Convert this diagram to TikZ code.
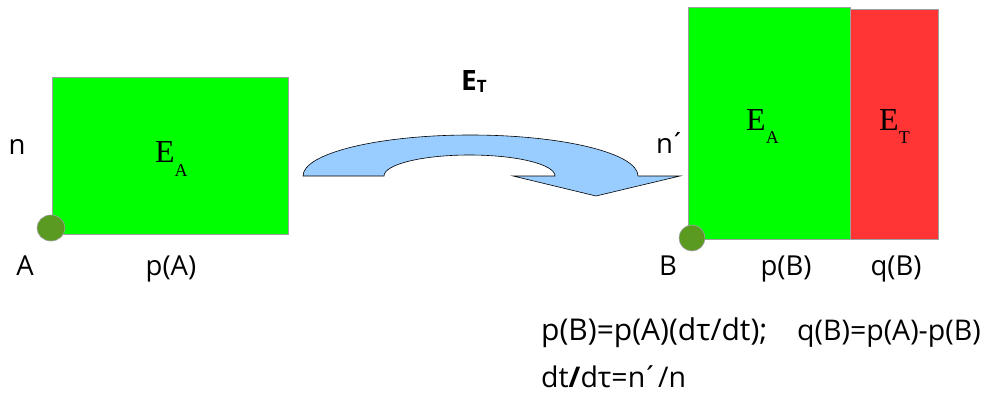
\documentclass[tikz,border=0pt]{standalone}
\usepackage{fontspec}
\setmainfont{Open Sans}
\newfontfamily\seriffont{Liberation Serif}
\definecolor{boxgreen}{HTML}{00FF00}
\definecolor{boxred}{HTML}{FF3535}
\definecolor{dotgreen}{HTML}{5A9A20}
\definecolor{arrowblue}{HTML}{99CCFF}
\definecolor{edgegray}{HTML}{A0A0A0}
\tikzset{
  lbl/.style={inner sep=0pt, font=\fontsize{27.5}{28}\selectfont},
  eqn/.style={inner sep=0pt, anchor=base west, font=\fontsize{28.5}{29}\selectfont},
  energy/.style={inner sep=0pt, anchor=base west},
  areabox/.style={draw=edgegray, line width=1pt},
  corner/.style={fill=dotgreen, draw=edgegray, line width=0.6pt},
}
\newcommand{\Esub}[1]{{\seriffont\fontsize{32}{32}\selectfont E\raisebox{-14pt}{\fontsize{18}{18}\selectfont #1}}}
\newcommand{\nprime}{n\kern-3.5pt´}
\begin{document}
\begin{tikzpicture}[x=1pt,y=1pt]
\useasboundingbox (0,0) rectangle (988,400);
% left box
\draw[areabox, fill=boxgreen] (52,166) rectangle (288,323);
\fill[corner] (51,172) ellipse [x radius=14, y radius=13];
% right boxes
\draw[areabox, fill=boxgreen] (688,161) rectangle (850,392);
\draw[areabox, fill=boxred] (850,161) rectangle (938,390);
\fill[corner] (692,162) ellipse [x radius=13, y radius=13];
% curved arrow
\draw[fill=arrowblue, line width=0.6pt] (303,224) arc [start angle=180, end angle=0, x radius=167.5, y radius=41]
  -- (680,224) -- (596,204) -- (513,224) -- (555,224)
  arc [start angle=0, end angle=180, x radius=85.5, y radius=21] -- cycle;
% labels
\node[energy] (ea1) at (155,238) {\Esub{A}};
\node[energy] (ea2) at (746,270) {\Esub{A}};
\node[energy] (et2) at (879,270) {\Esub{T}};
\node[energy] (et) at (461,310) {\fontsize{28}{28}\selectfont\bfseries E\raisebox{-3pt}{\fontsize{17}{17}\selectfont T}};
\node[lbl, anchor=base] (n) at (17,246) {n};
\node[lbl, anchor=base] (A) at (25,125) {A};
\node[lbl, anchor=base] (pA) at (171,125) {p(A)};
\node[lbl, anchor=base west] (np) at (656,247) {\nprime};
\node[lbl, anchor=base] (B) at (668,125) {B};
\node[lbl, anchor=base] (pB) at (786,125) {p(B)};
\node[lbl, anchor=base] (qB) at (896,125) {q(B)};
\node[eqn, font=\fontsize{30}{30}\selectfont] (eq1) at (541,60) {p(B)=p(A)(dτ/dt);};
\node[eqn] (eq1b) at (797,60) {q(B)=p(A)-p(B)};
\node[eqn] (eq2) at (541,13) {dt\textbf{/}dτ=\nprime/n};
\end{tikzpicture}
\end{document}
